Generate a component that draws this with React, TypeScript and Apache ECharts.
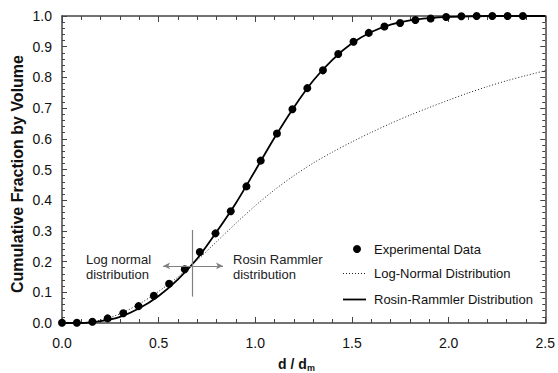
import React, { useEffect, useRef } from "react";
import * as echarts from "echarts";

// Experimental data (d/dm, cumulative fraction)
const expX = [0.0, 0.077, 0.157, 0.236, 0.317, 0.396, 0.475, 0.554, 0.635, 0.713, 0.794, 0.873, 0.954, 1.028, 1.112, 1.192, 1.269, 1.35, 1.429, 1.508, 1.587, 1.668, 1.749, 1.828, 1.907, 1.987, 2.066, 2.145, 2.226, 2.305, 2.384];
const expY = [0.001, 0.001, 0.004, 0.015, 0.032, 0.055, 0.089, 0.128, 0.175, 0.231, 0.292, 0.364, 0.445, 0.529, 0.617, 0.696, 0.765, 0.823, 0.876, 0.916, 0.945, 0.966, 0.977, 0.987, 0.992, 0.997, 0.999, 1.0, 1.0, 1.0, 1.0];

// Model curves sampled at these x values
const curveX = [0.0, 0.1, 0.2, 0.3, 0.4, 0.5, 0.6, 0.7, 0.8, 0.9, 1.0, 1.1, 1.2, 1.3, 1.4, 1.5, 1.6, 1.7, 1.8, 1.9, 2.0, 2.1, 2.2, 2.3, 2.4, 2.5];
const logNormalY = [0.0, 0.001, 0.009, 0.03, 0.062, 0.103, 0.15, 0.205, 0.265, 0.325, 0.382, 0.434, 0.48, 0.521, 0.557, 0.59, 0.621, 0.65, 0.677, 0.702, 0.726, 0.749, 0.77, 0.789, 0.806, 0.822];
const rosinY = [0.0, 0.0, 0.006, 0.02, 0.048, 0.088, 0.142, 0.21, 0.297, 0.391, 0.497, 0.604, 0.703, 0.79, 0.858, 0.911, 0.948, 0.972, 0.986, 0.993, 0.997, 0.999, 1.0, 1.0, 1.0, 1.0];

// Crosshair annotation (data coordinates)
const crossX = 0.675;
const crossY = 0.186;
const arrowFromX = 0.523;
const arrowToX = 0.833;
const vLineFromY = 0.086;
const vLineToY = 0.303;

const seriesNames = ["Experimental Data", "Log-Normal Distribution", "Rosin-Rammler Distribution"];

const FONT = "'Liberation Sans', Arial, Helvetica, sans-serif";
const AXIS_COLOR = "#444";

export default function App() {
  const ref = useRef<HTMLDivElement>(null);

  useEffect(() => {
    if (!ref.current) return;
    const chart = echarts.init(ref.current, undefined, { renderer: "svg" });

    const baseX = {
      type: "value" as const,
      min: 0,
      max: 2.5,
      interval: 0.5,
      splitLine: { show: false },
      axisLine: { show: true, onZero: false, lineStyle: { color: AXIS_COLOR, width: 1.5 } },
      axisTick: { show: true, inside: true, length: 6, lineStyle: { color: AXIS_COLOR, width: 1 } },
      minorTick: { show: true, splitNumber: 5, length: 4, lineStyle: { color: AXIS_COLOR, width: 1 } },
    };
    const baseY = {
      type: "value" as const,
      min: 0,
      max: 1,
      interval: 0.1,
      splitLine: { show: false },
      axisLine: { show: true, onZero: false, lineStyle: { color: AXIS_COLOR, width: 1.5 } },
      axisTick: { show: true, inside: true, length: 5, lineStyle: { color: AXIS_COLOR, width: 1 } },
      minorTick: { show: true, splitNumber: 5, length: 3, lineStyle: { color: AXIS_COLOR, width: 1 } },
    };

    const legendX = 343;
    const legendTextX = 374;
    const legendRows = [249, 273.5, 299.5];

    const option: any = {
      animation: false,
      backgroundColor: "#fff",
      textStyle: { fontFamily: FONT },
      grid: { left: 62, right: 11, top: 16, bottom: 50, containLabel: false },
      xAxis: [
        {
          ...baseX,
          position: "bottom",
          axisLabel: {
            show: true,
            margin: 13,
            fontSize: 14,
            color: "#111",
            fontFamily: FONT,
            formatter: (v: number) => v.toFixed(1),
          },
        },
        { ...baseX, position: "top", axisLabel: { show: false } },
      ],
      yAxis: [
        {
          ...baseY,
          position: "left",
          axisLabel: {
            show: true,
            margin: 10,
            fontSize: 14,
            color: "#111",
            fontFamily: FONT,
            formatter: (v: number) => v.toFixed(1),
          },
        },
        { ...baseY, position: "right", axisLabel: { show: false } },
      ],
      series: [
        {
          name: seriesNames[1],
          type: "line",
          data: curveX.map((x, i) => [x, logNormalY[i]]),
          smooth: 0.3,
          symbol: "none",
          showSymbol: false,
          lineStyle: { color: "#222", width: 1, type: [1, 2] },
          itemStyle: { color: "#222" },
          z: 2,
        },
        {
          name: seriesNames[2],
          type: "line",
          data: curveX.map((x, i) => [x, rosinY[i]]),
          smooth: 0.3,
          symbol: "none",
          showSymbol: false,
          lineStyle: { color: "#000", width: 1.8 },
          itemStyle: { color: "#000" },
          z: 3,
        },
        {
          name: seriesNames[0],
          type: "scatter",
          data: expX.map((x, i) => [x, expY[i]]),
          symbol: "circle",
          symbolSize: 8,
          itemStyle: { color: "#000", opacity: 1 },
          z: 4,
        },
        {
          name: "annotation",
          type: "line",
          data: [],
          silent: true,
          markLine: {
            silent: true,
            animation: false,
            label: { show: false },
            lineStyle: { color: "#808080", width: 1.2, type: "solid" },
            data: [
              [
                { coord: [arrowFromX, crossY], symbol: "arrow", symbolSize: [5, 7], itemStyle: { color: "#222" } },
                { coord: [arrowToX, crossY], symbol: "arrow", symbolSize: [5, 7], itemStyle: { color: "#222" } },
              ],
              [
                { coord: [crossX, vLineFromY], symbol: "none" },
                { coord: [crossX, vLineToY], symbol: "none" },
              ],
            ],
          },
          z: 1,
        },
      ],
      graphic: [
        // legend
        { type: "circle", shape: { cx: 357, cy: legendRows[0], r: 4 }, style: { fill: "#000" } },
        {
          type: "line",
          shape: { x1: legendX, y1: legendRows[1], x2: legendX + 23, y2: legendRows[1] },
          style: { stroke: "#222", lineWidth: 1, lineDash: [1, 2] },
        },
        {
          type: "line",
          shape: { x1: legendX, y1: legendRows[2], x2: legendX + 23, y2: legendRows[2] },
          style: { stroke: "#000", lineWidth: 1.8 },
        },
        ...seriesNames.map((name, i) => ({
          type: "text",
          x: legendTextX,
          y: legendRows[i],
          style: {
            text: name,
            font: `13px ${FONT}`,
            fill: "#111",
            textAlign: "left",
            textVerticalAlign: "middle",
          },
        })),
        // annotations
        {
          type: "text",
          left: 86,
          top: 252,
          style: {
            text: "Log normal\ndistribution",
            font: `13px ${FONT}`,
            fill: "#222",
            lineHeight: 15,
          },
        },
        {
          type: "text",
          left: 233,
          top: 252,
          style: {
            text: "Rosin Rammler\ndistribution",
            font: `13px ${FONT}`,
            fill: "#222",
            lineHeight: 15,
          },
        },
        // axis titles
        {
          type: "text",
          x: 17,
          y: 174,
          rotation: Math.PI / 2,
          style: {
            text: "Cumulative Fraction by Volume",
            font: `bold 16px ${FONT}`,
            fill: "#111",
            textAlign: "center",
            textVerticalAlign: "middle",
          },
        },
        {
          type: "text",
          x: 278,
          y: 364,
          style: {
            text: "d / d",
            font: `bold 14px ${FONT}`,
            fill: "#111",
            textAlign: "left",
            textVerticalAlign: "middle",
          },
        },
        {
          type: "text",
          x: 307,
          y: 367.5,
          style: {
            text: "m",
            font: `bold 9px ${FONT}`,
            fill: "#111",
            textAlign: "left",
            textVerticalAlign: "middle",
          },
        },
      ],
    };

    chart.setOption(option);
    return () => chart.dispose();
  }, []);

  return (
    <div
      ref={ref}
      style={{ position: "fixed", left: 0, top: 0, width: 558, height: 373, background: "#fff" }}
    />
  );
}
